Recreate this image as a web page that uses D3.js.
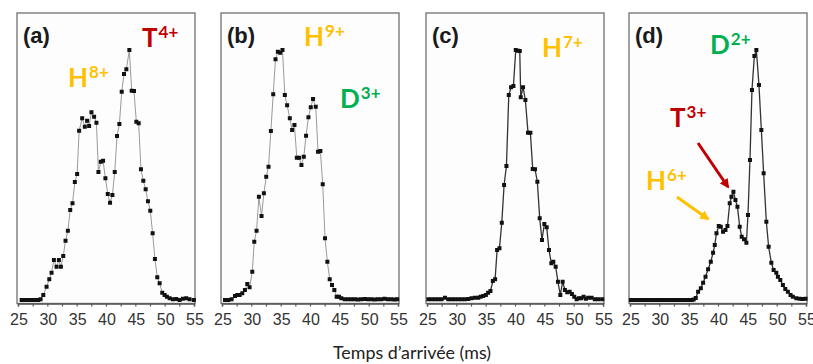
<!DOCTYPE html>
<html><head><meta charset="utf-8">
<script src="https://cdn.jsdelivr.net/npm/d3@7"></script>
<style>body{margin:0;background:#fff}</style>
</head><body>
<svg id="chart" width="813" height="364"></svg>
<script>
// ---------- DATA ----------
const panelLabels = ["(a)", "(b)", "(c)", "(d)"];
const tickValues = [25, 30, 35, 40, 45, 50, 55];
const axisTitle = "Temps d\u2019arrivée (ms)";

const timeA = [25.62,26.19,26.76,27.32,27.89,28.46,28.85,29.31,29.87,30.33,30.72,31.12,31.57,31.97,32.31,32.71,33.10,33.50,33.90,34.29,34.69,35.08,35.42,35.94,36.39,36.78,37.12,37.52,37.97,38.37,38.71,39.11,39.50,39.90,40.30,40.69,41.09,41.49,41.88,42.28,42.68,43.07,43.47,43.98,44.38,44.77,45.17,45.57,45.96,46.36,46.76,47.15,47.55,47.95,48.34,48.74,49.14,49.59,49.99,50.38,50.84,51.40,51.97,52.54,53.10,53.67,54.24,54.97];
const intensityA = [0,0,0,0,0,0,0.003,0.02,0.053,0.083,0.109,0.16,0.133,0.16,0.133,0.176,0.237,0.277,0.36,0.387,0.472,0.504,0.677,0.727,0.693,0.717,0.696,0.751,0.733,0.709,0.512,0.553,0.557,0.487,0.424,0.389,0.42,0.512,0.656,0.704,0.833,0.904,0.923,1.0,0.837,0.836,0.713,0.707,0.523,0.477,0.443,0.395,0.357,0.267,0.164,0.091,0.067,0.029,0.02,0.013,0.007,0.003,0.004,0,0.005,0.007,0.003,0];

const timeB = [25.51,26.08,26.64,27.21,27.61,28.00,28.46,28.91,29.31,29.70,30.16,30.50,30.89,31.29,31.74,32.14,32.54,32.93,33.33,33.73,34.12,34.52,34.92,35.31,35.71,36.10,36.56,36.95,37.35,37.75,38.14,38.54,38.94,39.33,39.73,40.13,40.52,40.98,41.37,41.77,42.17,42.56,42.96,43.36,43.75,44.15,44.55,44.94,45.34,45.91,46.47,47.04,47.61,48.17,48.74,49.31,49.87,50.44,51.01,51.57,52.14,52.71,53.27,53.84,54.41,54.86];
const intensityB = [0,0,0.003,0.016,0.02,0.02,0.027,0.04,0.064,0.051,0.113,0.233,0.277,0.413,0.336,0.427,0.493,0.533,0.676,0.823,0.963,0.993,0.989,1.0,0.82,0.779,0.727,0.68,0.70,0.569,0.569,0.54,0.573,0.657,0.731,0.771,0.804,0.773,0.593,0.596,0.463,0.247,0.153,0.083,0.06,0.04,0.013,0.013,0.007,0.003,0.003,0.003,0.003,0.002,0.003,0.004,0.003,0.003,0.002,0.003,0.003,0.005,0.003,0.003,0.002,0.003];

const timeC = [25.23,25.79,26.36,26.93,27.49,28.06,28.63,29.19,29.76,30.33,30.89,31.46,32.03,32.59,33.16,33.73,34.12,34.58,35.03,35.42,35.82,36.22,36.61,36.95,37.35,37.75,38.14,38.54,38.94,39.33,39.73,40.13,40.52,40.81,40.98,41.37,41.77,42.22,42.62,43.02,43.41,43.81,44.21,44.60,45.00,45.40,45.79,46.19,46.53,46.93,47.32,47.72,48.12,48.51,48.91,49.31,49.70,50.10,50.50,50.89,51.29,51.69,52.08,52.48,53.05,53.61,54.18,54.86];
const intensityC = [0.003,0.003,0.003,0.003,0.003,0.009,0.003,0.003,0.003,0.003,0.003,0.003,0.004,0.007,0.009,0.009,0.013,0.016,0.02,0.029,0.036,0.076,0.083,0.2,0.207,0.309,0.46,0.536,0.82,0.851,0.856,1.0,0.997,0.996,0.811,0.851,0.8,0.669,0.669,0.524,0.523,0.473,0.327,0.24,0.304,0.291,0.2,0.147,0.153,0.133,0.073,0.02,0.073,0.04,0.031,0.033,0.024,0.013,0.003,0.007,0.007,0.013,0.005,0.009,0.009,0.003,0.003,0.003];

const timeD = [25.15,25.6,26.05,26.5,26.95,27.4,27.85,28.3,28.75,29.2,29.65,30.1,30.55,31.0,31.45,31.9,32.35,32.8,33.25,33.7,34.15,34.6,35.05,35.5,35.85,36.21,36.61,37.07,37.46,37.87,38.31,38.77,39.16,39.45,39.74,40.13,40.47,40.86,41.27,41.61,42.00,42.29,42.63,42.97,43.31,43.70,44.04,44.43,44.84,45.11,45.45,45.79,46.20,46.54,46.98,47.39,47.78,48.24,48.63,49.09,49.48,49.94,50.21,50.62,51.06,51.47,51.91,52.37,52.76,53.34,53.90,54.41,54.92];
const intensityD = [0,0,0,0,0,0,0,0,0,0,0,0,0,0,0,0,0,0,0,0,0,0,0,0,0.002,0.008,0.033,0.047,0.069,0.093,0.123,0.153,0.189,0.22,0.267,0.296,0.293,0.273,0.28,0.296,0.387,0.413,0.433,0.40,0.373,0.293,0.253,0.243,0.229,0.34,0.56,0.84,0.976,1.0,0.86,0.68,0.507,0.313,0.213,0.149,0.12,0.109,0.093,0.08,0.06,0.044,0.033,0.02,0.013,0.007,0.005,0.004,0.005];

const seriesTimes = [timeA, timeB, timeC, timeD];
const seriesIntensities = [intensityA, intensityB, intensityC, intensityD];

// ion annotations: panel index, letter, charge, colour
const ionLetters = ["H","T","H","D","H","D","T","H"];
const ionCharges = ["8+","4+","9+","3+","7+","2+","3+","6+"];
const ionPanels  = [0,0,1,1,2,3,3,3];
const ionColors  = ["#FFC000","#C00000","#FFC000","#00B050","#FFC000","#00B050","#C00000","#FFC000"];

// ---------- LAYOUT / STYLE ----------
const panelLefts = [17, 221, 426, 629];
const panelW = 178, frameTop = 13, frameBottom = 303.5;
const ionPos = [[68,87],[142,47],[304,46],[340,108],[542,57],[710,54],[670,127],[646,190]];
const lineColors = ["#9a9a9a","#9a9a9a","#333","#333"];
const lineWidths = [1, 1, 1.3, 1.3];

const svg = d3.select("#chart");
const y = d3.scaleLinear().domain([0, 1]).range([300, 50]);

svg.append("defs").selectAll("marker")
  .data([["arrRed","#C00000"],["arrGold","#FFC000"]])
  .join("marker")
  .attr("id", d => d[0]).attr("viewBox","0 0 10 10").attr("refX",8).attr("refY",5)
  .attr("markerWidth",3.2).attr("markerHeight",3.2).attr("orient","auto")
  .attr("markerUnits","strokeWidth")
  .append("path").attr("d","M0,0 L10,5 L0,10 z").attr("fill", d => d[1]);

panelLefts.forEach((L, i) => {
  const g = svg.append("g");
  const x = d3.scaleLinear().domain([25, 55]).range([L + 1, L + panelW - 1]);

  g.append("rect").attr("x", L).attr("y", frameTop)
    .attr("width", panelW).attr("height", frameBottom - frameTop)
    .attr("fill", "#fdfdfd").attr("stroke", "#7a7a7a").attr("stroke-width", 1.4);

  const axis = d3.axisBottom(x).tickValues(d3.range(25, 55.01, 2.5))
    .tickSize(3).tickFormat("");
  const ag = g.append("g").attr("transform", `translate(0,${frameBottom})`).call(axis);
  ag.select(".domain").attr("stroke", "#555").attr("stroke-width", 1.4);
  ag.selectAll(".tick line").attr("stroke", "#555").attr("stroke-width", 1.2);

  g.selectAll(".tl").data(tickValues).join("text")
    .attr("x", d => x(d) + 1).attr("y", 325)
    .attr("text-anchor", "middle")
    .attr("font-family", "'Liberation Sans', Arial, sans-serif")
    .attr("font-size", 16).attr("fill", "#333").text(d => d);

  const pts = seriesTimes[i].map((t, k) => ({t, v: seriesIntensities[i][k]}))
    .filter(d => d.v !== undefined);
  const line = d3.line().x(d => x(d.t)).y(d => y(d.v));
  g.append("path").datum(pts).attr("d", line).attr("fill", "none")
    .attr("stroke", lineColors[i]).attr("stroke-width", lineWidths[i]);
  g.selectAll(".pt").data(pts).join("rect")
    .attr("x", d => x(d.t) - 2).attr("y", d => y(d.v) - 2)
    .attr("width", 4).attr("height", 4).attr("fill", "#111");

  g.append("text").attr("x", L + 6).attr("y", 43)
    .attr("font-family", "'Liberation Sans', Arial, sans-serif")
    .attr("font-weight", "bold").attr("font-size", 22).attr("fill", "#1a1a1a")
    .text(panelLabels[i]);
});

ionLetters.forEach((ltr, k) => {
  const t = svg.append("text").attr("x", ionPos[k][0]).attr("y", ionPos[k][1])
    .attr("font-family", "Lato, 'Open Sans', sans-serif").attr("font-weight", "bold")
    .attr("fill", ionColors[k]);
  t.append("tspan").attr("font-size", 26).text(ltr);
  t.append("tspan").attr("font-size", 17).attr("dy", -9.5).attr("dx", 1).text(ionCharges[k]);
});

svg.append("line").attr("x1", 698).attr("y1", 143).attr("x2", 728).attr("y2", 187)
  .attr("stroke", "#C00000").attr("stroke-width", 3).attr("marker-end", "url(#arrRed)");
svg.append("line").attr("x1", 677).attr("y1", 197).attr("x2", 708).attr("y2", 219)
  .attr("stroke", "#FFC000").attr("stroke-width", 3).attr("marker-end", "url(#arrGold)");

svg.append("text").attr("x", 412).attr("y", 359).attr("text-anchor", "middle")
  .attr("font-family", "Lato, 'Open Sans', sans-serif").attr("font-size", 18)
  .attr("textLength", 158).attr("lengthAdjust", "spacingAndGlyphs")
  .attr("fill", "#222").text(axisTitle);
</script>
</body></html>
